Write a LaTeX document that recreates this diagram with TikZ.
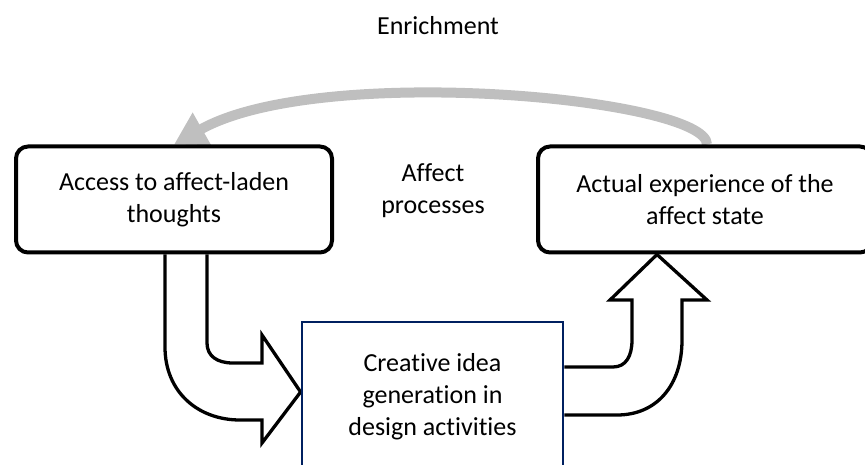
\documentclass[tikz,border=0pt]{standalone}
\usepackage{fontspec}
\setmainfont{Carlito}[Ligatures=NoCommon]
\usepackage{tikz}
\usetikzlibrary{calc,positioning,arrows.meta,backgrounds}
\definecolor{navyline}{RGB}{0,32,96}
\definecolor{enrichgray}{RGB}{191,191,191}

\begin{document}
\begin{tikzpicture}[x=1pt,y=-1pt]
\tikzstyle{box}=[draw, line width=4pt, rounded corners=12pt,
                        minimum width=316pt, minimum height=106pt, align=center,
                        font=\fontsize{26}{32}\selectfont]
\tikzstyle{cbox}=[draw=navyline, line width=2.8pt, minimum width=261pt,
                        minimum height=150pt, align=center, font=\fontsize{26}{32}\selectfont]
\tikzstyle{lbl}=[align=center, inner sep=0pt, font=\fontsize{26}{32}\selectfont]
\tikzstyle{blk}=[draw, fill=white, line width=3.3pt, line join=miter]
\tikzstyle{enrich}=[draw=enrichgray, line width=10pt, -{Triangle[length=32pt,width=35pt]}]
\useasboundingbox (0,0) rectangle (865,465);
\clip (0,0) rectangle (865,465);
\node[box] (access) at (174,199.5) {Access to affect-laden\\thoughts};
\node[box, minimum width=334pt] (experience) at (705,199.5) {Actual experience of the\\affect state};
\node[cbox] (creative) at (432.5,397) {Creative idea\\generation in\\design activities};
\node[lbl] (affproc) at (433,191) {Affect\\processes};
\node[lbl] (enrichlbl) at (438,26) {Enrichment};
\begin{scope}[on background layer]
% block arrows
\path[blk] (165,0 |- access.south) -- (165,347) .. controls (165,392) and (198,420) .. (240,420)
  -- (262,420) -- (262,443) -- (creative.west |- 0,392) -- (262,335) -- (262,363) -- (233,363)
  .. controls (217,363) and (207,356) .. (207,343) -- (207,0 |- access.south);
\path[blk] (creative.east |- 0,367) -- (613,367) .. controls (626,367) and (632,356) .. (632,340)
  -- (632,300) -- (610,300) -- (657,0 |- experience.south) -- (707,300) -- (682,300) -- (682,340)
  .. controls (682,385) and (657,415) .. (617,415) -- (creative.east |- 0,415);
% enrichment loop
\draw[enrich] ([xshift=2pt]experience.north) .. controls +(0,-46) and (320,62) .. (access.north);
\end{scope}
\end{tikzpicture}
\end{document}
